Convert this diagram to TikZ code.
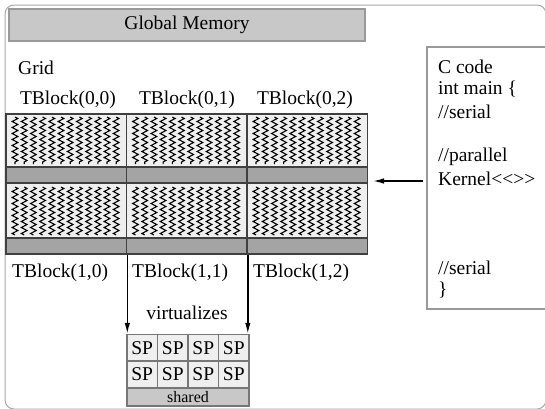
\documentclass[tikz,border=0pt]{standalone}
\usepackage{fontspec}
\setmainfont{Liberation Serif}
\usetikzlibrary{decorations.pathmorphing,arrows.meta}
\definecolor{framec}{HTML}{A8A8A8}
\definecolor{gmfill}{HTML}{C8C8C8}
\definecolor{gmline}{HTML}{999999}
\definecolor{cellfill}{HTML}{EFEFEF}
\definecolor{cellline}{HTML}{404040}
\definecolor{barfill}{HTML}{A4A4A4}
\definecolor{spline}{HTML}{777777}
\begin{document}
\begin{tikzpicture}[x=1pt,y=-1pt,
  font=\fontsize{19.5}{23}\selectfont,
  gmbox/.style={draw=gmline,fill=gmfill,line width=1.5pt,inner sep=0pt,minimum width=356pt,minimum height=32pt},
  cellbox/.style={draw=cellline,fill=cellfill,line width=1.6pt,inner sep=0pt,minimum width=120.5pt},
  barbox/.style={draw=cellline,fill=barfill,line width=1.6pt,inner sep=0pt,minimum width=120.5pt,minimum height=16pt},
  spbox/.style={draw=spline,fill=cellfill,line width=1.5pt,inner sep=0pt,minimum width=30.5pt,minimum height=26.5pt},
  sharedbox/.style={draw=spline,fill=gmfill,line width=1.5pt,inner sep=0pt,minimum width=122pt,minimum height=18pt,font=\fontsize{16}{18}\selectfont},
  codebox/.style={draw=gmline,line width=1.2pt,inner sep=0pt,minimum width=119pt,minimum height=262pt},
  lbl/.style={inner sep=0pt},
  codeline/.style={inner sep=0pt,anchor=west},
  zz/.style={line width=1.1pt,decorate,decoration={zigzag,segment length=6pt,amplitude=2.8pt}},
  arr/.style={line width=1.4pt,-{Latex[length=11pt,width=5.5pt]}}]
\useasboundingbox (0,0) rectangle (545,408);
\clip (0,0) rectangle (545,408);
\draw[framec,line width=1pt,rounded corners=9pt] (5,5) rectangle (546,409);

\node[gmbox] (gm) at (187,25) {Global Memory};
\node[lbl,anchor=west] (grid) at (18,68) {Grid};
\node[lbl] (t00) at (68,100) {TBlock(0,0)};
\node[lbl] (t01) at (187,100) {TBlock(0,1)};
\node[lbl] (t02) at (305,100) {TBlock(0,2)};

% cells row 0
\node[cellbox,minimum height=53pt] (c00) at (66.25,140.5) {};
\node[cellbox,minimum height=53pt] (c01) at (186.75,140.5) {};
\node[cellbox,minimum height=53pt] (c02) at (307.25,140.5) {};
\node[barbox] (b00) at (66.25,175) {};
\node[barbox] (b01) at (186.75,175) {};
\node[barbox] (b02) at (307.25,175) {};
% cells row 1
\node[cellbox,minimum height=55pt] (c10) at (66.25,210.5) {};
\node[cellbox,minimum height=55pt] (c11) at (186.75,210.5) {};
\node[cellbox,minimum height=55pt] (c12) at (307.25,210.5) {};
\node[barbox] (b10) at (66.25,246) {};
\node[barbox] (b11) at (186.75,246) {};
\node[barbox] (b12) at (307.25,246) {};

% zigzags
\foreach \cx in {6,126.5,247}{
  \foreach \i in {0,...,11}{
    \draw[zz] (\cx+9+9.2*\i,117) -- (\cx+9+9.2*\i,164);
    \draw[zz] (\cx+9+9.2*\i,187) -- (\cx+9+9.2*\i,235);
  }
}

\node[lbl,anchor=west] (t10) at (12,273) {TBlock(1,0)};
\node[lbl,anchor=west] (t11) at (132,273) {TBlock(1,1)};
\node[lbl,anchor=west] (t12) at (253,273) {TBlock(1,2)};
\node[lbl] (virt) at (187,313) {virtualizes};

% SP grid
\node[spbox] (sp00) at (142.25,347.75) {SP};
\node[spbox] (sp01) at (172.75,347.75) {SP};
\node[spbox] (sp02) at (203.25,347.75) {SP};
\node[spbox] (sp03) at (233.75,347.75) {SP};
\node[spbox] (sp10) at (142.25,374.25) {SP};
\node[spbox] (sp11) at (172.75,374.25) {SP};
\node[spbox] (sp12) at (203.25,374.25) {SP};
\node[spbox] (sp13) at (233.75,374.25) {SP};
\node[sharedbox] (sh) at (188,397) {shared};

\draw[arr] (b10.south east) -- (b10.south east |- sp00.north);
\draw[arr] (b11.south east) -- (b11.south east |- sp03.north);

% code box
\node[codebox] (code) at (486.5,178) {};
\node[codeline] (l1) at (438,67) {C code};
\node[codeline] (l2) at (438,89.5) {int main \{};
\node[codeline] (l3) at (438,112) {//serial};
\node[codeline] (l4) at (438,157) {//parallel};
\node[codeline] (l5) at (438,179) {Kernel<\kern0pt<\kern0pt>\kern0pt>};
\node[codeline] (l6) at (438,268) {//serial};
\node[codeline] (l7) at (438,290) {\}};

\coordinate (kfrom) at (423,181);
\coordinate (kto) at (373,181);
\draw[arr] (kfrom) -- (kto);
\end{tikzpicture}
\end{document}
